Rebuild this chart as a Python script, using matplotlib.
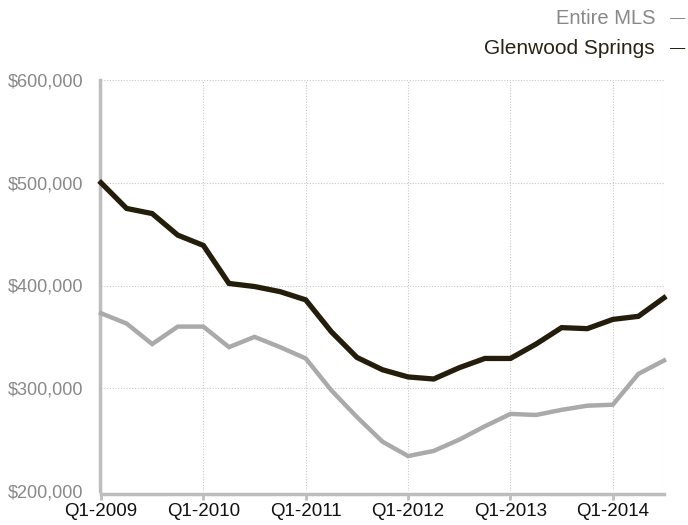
import matplotlib
matplotlib.use("Agg")
import matplotlib.pyplot as plt
from matplotlib.ticker import FuncFormatter

plt.rcParams['font.family'] = ['Liberation Sans', 'DejaVu Sans']

quarters = [f"Q{q}-{y}" for y in range(2009, 2015) for q in range(1, 5)][:23]
glenwood = [500000, 475000, 470000, 449000, 439000, 402000, 399000, 394000, 386000,
            355000, 330000, 318000, 311000, 309000, 320000, 329000, 329000, 343000,
            359000, 358000, 367000, 370000, 388000]
entire_mls = [373000, 363000, 343000, 360000, 360000, 340000, 350000, 340000, 329000,
              298000, 272000, 248000, 234000, 239000, 250000, 263000, 275000, 274000,
              279000, 283000, 284000, 314000, 327000]
y_ticks = [200000, 300000, 400000, 500000, 600000]

C_DARK = "#251d0c"
C_GRAY = "#aaaaaa"
C_SPINE = "#bdbdbd"
C_TXT_GRAY = "#888888"

fig = plt.figure(figsize=(6.88, 5.25), dpi=100)
ax = fig.add_axes([101/688, 1-491/525, (664-101)/688, (491-80)/525])

x = list(range(len(quarters)))
ax.plot(x, entire_mls, color=C_GRAY, lw=3.2, solid_joinstyle='miter', clip_on=False, zorder=4)
ax.plot(x, glenwood, color=C_DARK, lw=3.8, solid_joinstyle='miter', clip_on=False, zorder=5)

ax.set_xlim(0, len(quarters) - 1)
ax.set_ylim(200000, 600000)
ax.set_yticks(y_ticks)
ax.yaxis.set_major_formatter(FuncFormatter(lambda v, p: f"${v:,.0f}"))
ax.set_xticks(x[::4])
ax.set_xticklabels(quarters[::4])

ax.grid(True, color="#c8c8c8", linestyle=(0, (1, 1.5)), lw=0.8)
ax.axvline(len(quarters) - 1, color="#c8c8c8", linestyle=(0, (1, 1.5)), lw=0.8)

for s in ["top", "right"]:
    ax.spines[s].set_visible(False)
for s in ["left", "bottom"]:
    ax.spines[s].set_color(C_SPINE)
    ax.spines[s].set_linewidth(2.5)
ax.spines["bottom"].set_position(("outward", 2))
ax.spines["left"].set_position(("outward", 1))

ax.tick_params(axis='y', length=0, labelsize=13, labelcolor=C_TXT_GRAY, pad=12)
ax.tick_params(axis='x', length=4, width=2, color=C_SPINE, labelsize=13.5, labelcolor="#111111", pad=3)

fig.text(655/688, 1-18/525, "Entire MLS", ha='right', va='center', fontsize=14.5, color=C_TXT_GRAY)
fig.text(670/688, 1-18/525, "—", ha='left', va='center', fontsize=11, color=C_TXT_GRAY)
fig.text(655/688, 1-48/525, "Glenwood Springs", ha='right', va='center', fontsize=15, color="#2a2214")
fig.text(670/688, 1-48/525, "—", ha='left', va='center', fontsize=11, color=C_DARK)

fig.savefig("out.png", dpi=100)
